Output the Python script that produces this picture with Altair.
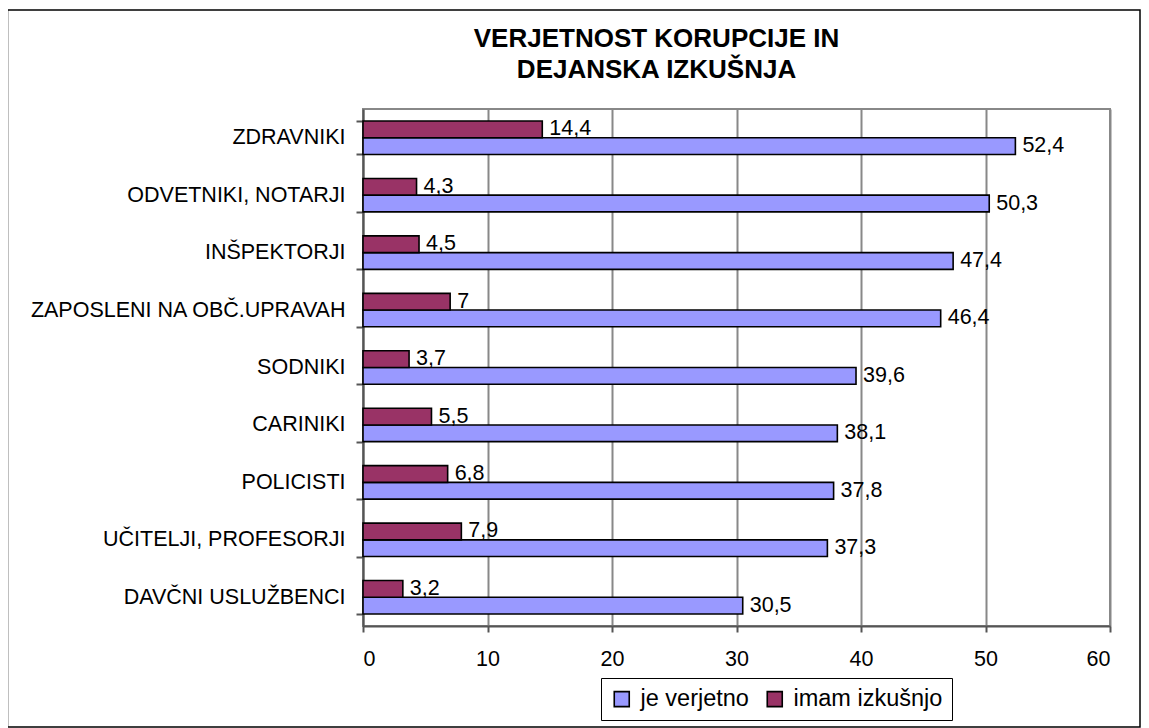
import altair as alt
import pandas as pd

categories = ["ZDRAVNIKI", "ODVETNIKI, NOTARJI", "INŠPEKTORJI", "ZAPOSLENI NA OBČ.UPRAVAH",
              "SODNIKI", "CARINIKI", "POLICISTI", "UČITELJI, PROFESORJI", "DAVČNI USLUŽBENCI"]
je_verjetno = [52.4, 50.3, 47.4, 46.4, 39.6, 38.1, 37.8, 37.3, 30.5]
imam_izkusnjo = [14.4, 4.3, 4.5, 7, 3.7, 5.5, 6.8, 7.9, 3.2]
series = ["je verjetno", "imam izkušnjo"]
colors = ["#9999FF", "#993366"]
x_ticks = [0, 10, 20, 30, 40, 50, 60]
title_lines = ["VERJETNOST KORUPCIJE IN", "DEJANSKA IZKUŠNJA"]

rows = []
for c, a, b in zip(categories, je_verjetno, imam_izkusnjo):
    for s, v in ((series[0], a), (series[1], b)):
        rows.append({"category": c, "series": s, "value": v,
                     "label": f"{v:g}".replace(".", ",")})
df = pd.DataFrame(rows)

FONT = "Liberation Sans"

base = alt.Chart(df).encode(
    y=alt.Y("category:N", sort=categories,
            scale=alt.Scale(paddingInner=0.418, paddingOuter=0.209),
            axis=alt.Axis(title=None, labelFontSize=21.5, labelColor="black", labelFont=FONT,
                          labelPadding=11, tickBand="extent", tickSize=7, tickWidth=2,
                          tickColor="#555555", domainColor="#555555", domainWidth=2,
                          grid=False, labelLimit=0)),
    yOffset=alt.YOffset("series:N", sort=["imam izkušnjo", "je verjetno"]),
)

xenc = alt.X("value:Q", scale=alt.Scale(domain=[0, 60], nice=False),
             axis=alt.Axis(values=x_ticks, title=None, labelFontSize=21.5, labelColor="black",
                           labelFont=FONT, labelPadding=16, tickSize=6, tickWidth=2,
                           tickColor="#555555", domainColor="#555555", domainWidth=2,
                           grid=True, gridColor="#888888", gridWidth=2))

bars = base.mark_bar(stroke="black", strokeWidth=1.6).encode(
    x=xenc,
    color=alt.Color("series:N", scale=alt.Scale(domain=series, range=colors),
                    legend=alt.Legend(title=None, orient="none", legendX=238, legendY=569,
                                      direction="horizontal", strokeColor="black",
                                      padding=9, symbolType="square", symbolSize=225,
                                      symbolStrokeColor="black", symbolStrokeWidth=1.6,
                                      labelFontSize=23.5, labelFont=FONT, labelColor="black",
                                      columnPadding=14, labelOffset=7)),
)

text = base.mark_text(align="left", baseline="middle", dx=7, fontSize=21.5, font=FONT,
                      color="black").encode(x="value:Q", text="label:N")

border = alt.Chart(alt.Data(values=[{"k": 1}])).mark_rect(
    fill=None, stroke="black", strokeWidth=1.5
).encode(x=alt.value(-355.5), x2=alt.value(777), y=alt.value(-99), y2=alt.value(618))

chart = alt.layer(bars, text, border).properties(
    width=747, height=517,
    autosize=alt.AutoSizeParams(type="none"),
    padding={"left": 355, "top": 101, "right": 31, "bottom": 102},
    title=alt.TitleParams(text=title_lines, fontSize=26, font=FONT, fontWeight="bold",
                          color="black", anchor="middle", frame="group", dx=-80,
                          offset=-100, lineHeight=31, baseline="bottom"),
).configure(font=FONT).configure_view(stroke="#888888", strokeWidth=2)

chart.save("out.html", embed_options={"renderer": "svg", "actions": False})
